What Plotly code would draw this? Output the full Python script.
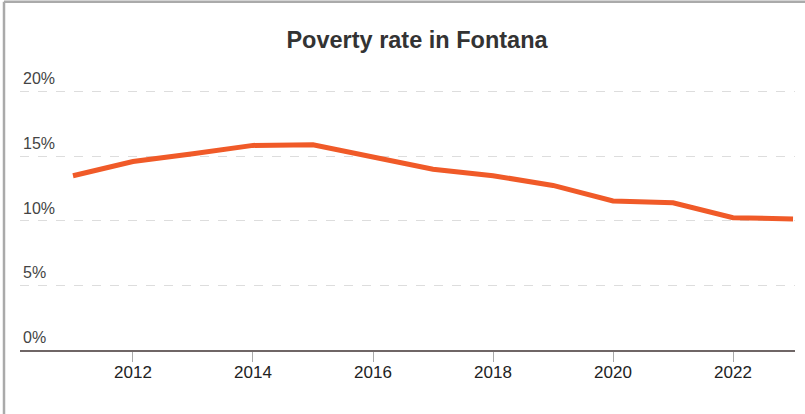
import plotly.graph_objects as go

years = [2011, 2012, 2013, 2014, 2015, 2016, 2017, 2018, 2019, 2020, 2021, 2022, 2023]
poverty_rate = [13.5, 14.6, 15.2, 15.85, 15.9, 14.95, 14.0, 13.5, 12.75, 11.55, 11.4, 10.25, 10.15]
y_ticks = [0, 5, 10, 15, 20]
y_tick_labels = ["0%", "5%", "10%", "15%", "20%"]
x_ticks = [2012, 2014, 2016, 2018, 2020, 2022]
title_text = "Poverty rate in Fontana"

W, H = 805, 414
y_top = 22
px_per = 258 / 20.0
ml, mr, mb = 20, 10, 64
mt = (H - mb) - y_top * px_per
pw = W - ml - mr
ph = H - mt - mb

fig = go.Figure()
fig.add_trace(go.Scatter(
    x=years, y=poverty_rate, mode="lines",
    line=dict(color="#f05a28", width=5),
    hoverinfo="skip", showlegend=False,
))

font = "Liberation Sans, Arial, sans-serif"
fig.update_layout(
    width=W, height=H,
    margin=dict(l=ml, r=mr, t=mt, b=mb, pad=0),
    paper_bgcolor="white", plot_bgcolor="white",
    title=dict(text="<b>" + title_text + "</b>", x=417 / W, xanchor="center",
               y=1 - 40 / H, yanchor="middle",
               font=dict(family=font, size=23.5, color="#333333")),
    xaxis=dict(
        range=[2010.117, 2023.033], tickvals=x_ticks,
        showgrid=False, zeroline=False,
        showline=True, linecolor="#6f6666", linewidth=1.5,
        ticks="outside", ticklen=10, tickcolor="#aaaaaa", tickwidth=1,
        ticklabelstandoff=-4,
        tickfont=dict(family=font, size=17, color="#222222"),
    ),
    yaxis=dict(
        range=[0, y_top], tickvals=y_ticks, ticktext=y_tick_labels,
        showgrid=True, gridcolor="#dddddd", griddash="dash", gridwidth=1,
        zeroline=False, showline=False,
        ticklabelposition="inside", ticklabelshift=-13,
        tickfont=dict(family=font, size=16, color="#444444"),
    ),
)

# outer frame (top and left edges of the card)
top_y = (H - mb - 2) / ph
left_x = (4 - ml) / pw
fig.add_shape(type="line", xref="paper", yref="paper",
              x0=left_x, x1=left_x, y0=-(mb) / ph, y1=top_y,
              line=dict(color="#aaaaaa", width=2.5))
fig.add_shape(type="line", xref="paper", yref="paper",
              x0=left_x, x1=(W - ml) / pw, y0=top_y, y1=top_y,
              line=dict(color="#aaaaaa", width=2.5))

fig.write_html("out.html", config={"displayModeBar": False},
               post_script="document.body.style.margin='0';")
